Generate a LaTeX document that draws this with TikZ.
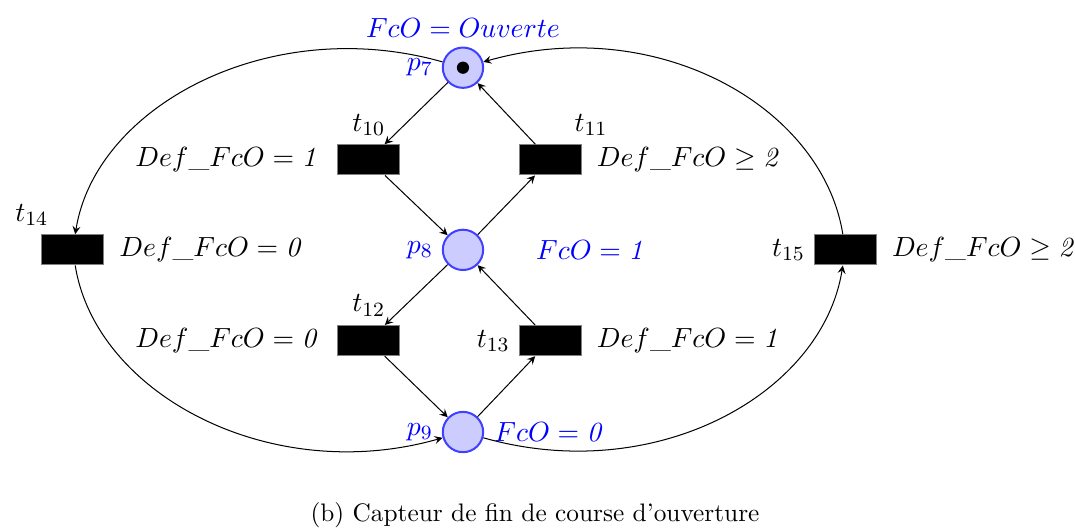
\RequirePackage{fix-cm}
\documentclass[tikz,border=0pt]{standalone}
\usepackage{amssymb}
\usetikzlibrary{arrows.meta, positioning}

\begin{document}
\begin{tikzpicture}[
  font=\fontsize{10.95}{13.6}\selectfont,
  place/.style={circle, draw=blue!75, fill=blue!20, thick, minimum size=0.56cm, inner sep=0pt},
  trans/.style={rectangle, draw=gray, fill=black, minimum width=0.86cm, minimum height=0.42cm, inner sep=0pt},
  token/.style={circle, fill=black, minimum size=0.17cm, inner sep=0pt},
  cond/.style={inner sep=1pt},
  flow/.style={-stealth}
]
\useasboundingbox (-6.43,-3.85) rectangle (8.5,3.47);

% places
\node[place, label={[blue]left:$p_7$}] (p7) at (0,2.53) {};
\node[token] (tok) at (p7) {};
\node[place, label={[blue]left:$p_8$}] (p8) at (0,0) {};
\node[place, label={[blue]left:$p_9$}] (p9) at (0,-2.53) {};

% transitions
\node[trans, label={above:$t_{10}$}] (t10) at (-1.31,1.25) {};
\node[trans, label={above right:$t_{11}$}] (t11) at (1.21,1.25) {};
\node[trans, label={above:$t_{12}$}] (t12) at (-1.31,-1.26) {};
\node[trans, label={left:$t_{13}$}] (t13) at (1.21,-1.26) {};
\node[trans, label={above left:$t_{14}$}] (t14) at (-5.42,0) {};
\node[trans, label={left:$t_{15}$}] (t15) at (5.31,0) {};

% conditions
\node[cond, blue, above=0.08cm of p7] (c7) {$FcO = Ouverte$};
\node[cond, blue, right=0.68cm of p8] (c8) {$FcO = \mathit{1}$};
\node[cond, blue, right=0.1cm of p9] (c9) {$FcO = \mathit{0}$};
\node[cond, left=0.2cm of t10] (c10) {$Def\_FcO = \mathit{1}$};
\node[cond, right=0.17cm of t11] (c11) {$Def\_FcO \geq \mathit{2}$};
\node[cond, left=0.2cm of t12] (c12) {$Def\_FcO = \mathit{0}$};
\node[cond, right=0.17cm of t13] (c13) {$Def\_FcO = \mathit{1}$};
\node[cond, right=0.17cm of t14] (c14) {$Def\_FcO = \mathit{0}$};
\node[cond, right=0.17cm of t15] (c15) {$Def\_FcO \geq \mathit{2}$};

% arcs
\draw[flow] (p7) -- (t10);
\draw[flow] (t10) -- (p8);
\draw[flow] (p8) -- (t11);
\draw[flow] (t11) -- (p7);
\draw[flow] (p8) -- (t12);
\draw[flow] (t12) -- (p9);
\draw[flow] (p9) -- (t13);
\draw[flow] (t13) -- (p8);
\draw[flow] (p7) .. controls +(-2.68,0.76) and +(0.32,2.0) .. (t14);
\draw[flow] (t14) .. controls +(0.32,-2.0) and +(-2.68,-0.76) .. (p9);
\draw[flow] (p9) .. controls +(2.68,-0.76) and +(-0.32,-2.0) .. (t15);
\draw[flow] (t15) .. controls +(-0.32,2.0) and +(2.68,0.76) .. (p7);

\node[font=\normalsize] (cap) at (1.0,-3.68) {(b) Capteur de fin de course d'ouverture};
\end{tikzpicture}
\end{document}
